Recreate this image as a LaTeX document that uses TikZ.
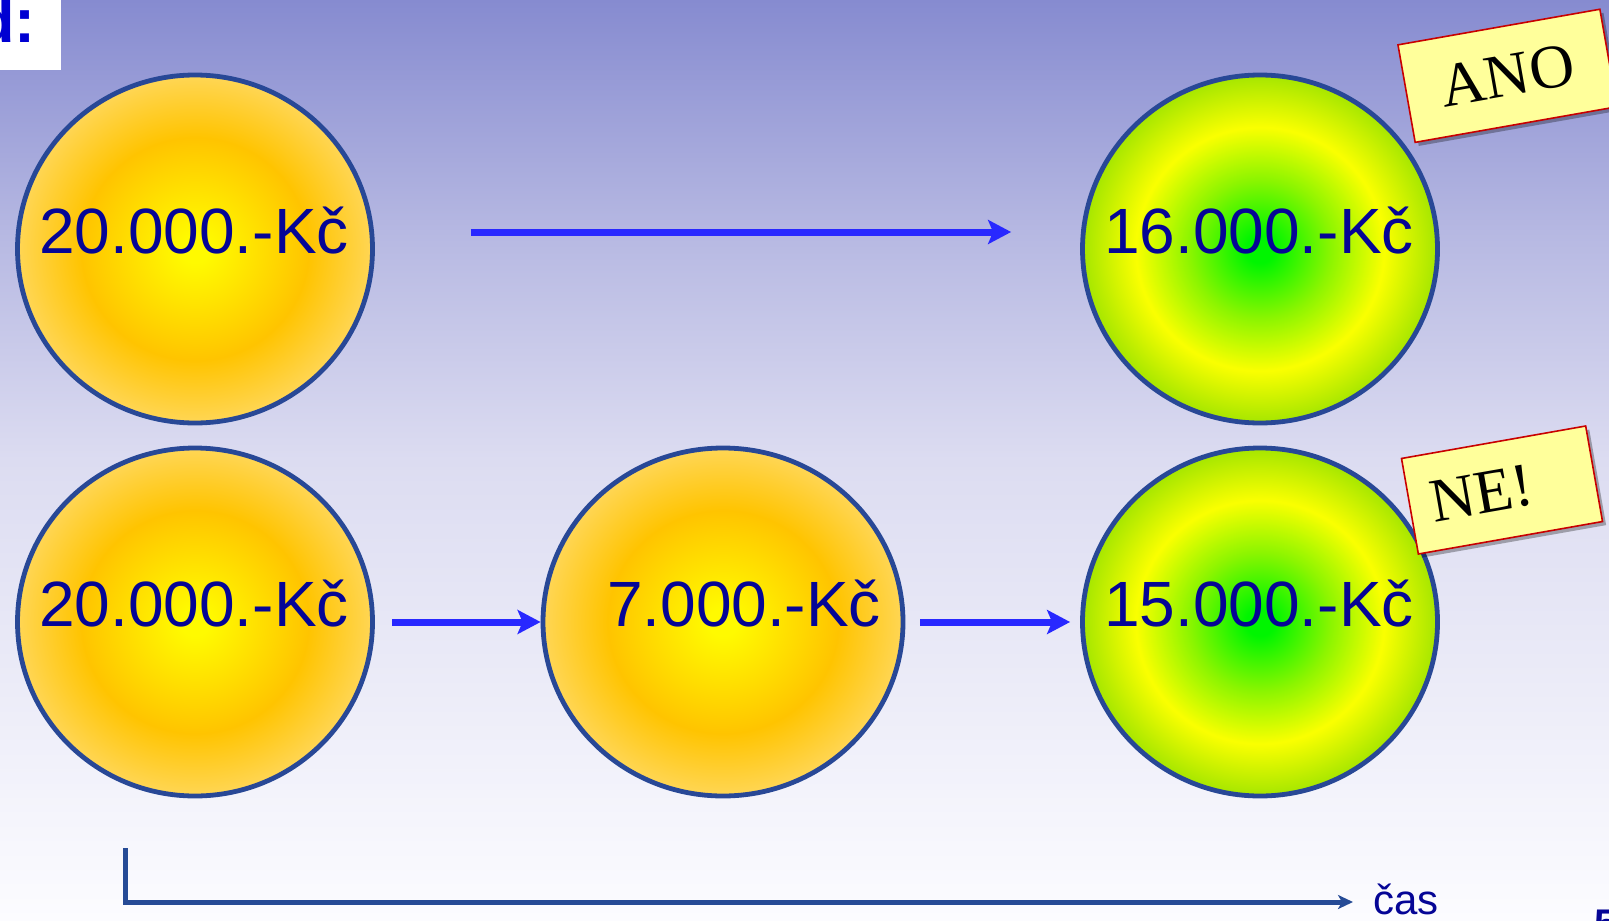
\documentclass[tikz,border=0pt]{standalone}
\usepackage{fontspec}
\setmainfont{Liberation Sans}
\newfontfamily\serifx{Liberation Serif}
\usetikzlibrary{arrows.meta,shadows,shapes.geometric}

\definecolor{bgA}{RGB}{134,139,208}
\definecolor{bgB}{RGB}{182,184,226}
\definecolor{bgC}{RGB}{220,220,241}
\definecolor{bgD}{RGB}{252,252,255}
\definecolor{oY}{RGB}{255,250,0}
\definecolor{oG}{RGB}{255,196,0}
\definecolor{oE}{RGB}{255,214,85}
\definecolor{gC}{RGB}{0,245,0}
\definecolor{gM}{RGB}{140,245,0}
\definecolor{gY}{RGB}{250,255,0}
\definecolor{gE}{RGB}{165,230,0}
\definecolor{rim}{RGB}{40,72,150}
\definecolor{txt}{RGB}{5,5,150}
\definecolor{arr}{RGB}{40,40,255}
\definecolor{tline}{RGB}{38,75,150}
\definecolor{notefill}{RGB}{255,255,155}
\definecolor{notedraw}{RGB}{200,0,0}
\definecolor{titleblue}{RGB}{0,0,210}

\pgfdeclareradialshading{coinorange}{\pgfpoint{0bp}{0bp}}{color(0bp)=(oY); color(2bp)=(oY); color(16bp)=(oG); color(25bp)=(oE); color(50bp)=(oE)}
\pgfdeclareradialshading{coingreen}{\pgfpoint{0bp}{0bp}}{color(0bp)=(gC); color(2bp)=(gC); color(10bp)=(gM); color(17.5bp)=(gY); color(25bp)=(gE); color(50bp)=(gE)}

\tikzset{
  coin/.style={ellipse, draw=rim, line width=2.4pt, inner sep=0pt,
    minimum width=177.5pt, minimum height=174pt},
  orange/.style={coin, shading=coinorange},
  green/.style={coin, shading=coingreen},
  money/.style={text=txt, font=\fontsize{32pt}{38pt}\selectfont, inner sep=0pt},
  flow/.style={draw=arr, line width=3.5pt, -{Stealth[length=11.5pt, width=12pt, inset=2.5pt]}},
  note/.style={draw=notedraw, line width=0.8pt, fill=notefill, rotate=10,
    inner sep=0pt, font=\serifx\fontsize{31pt}{36pt}\selectfont,
    drop shadow={shadow xshift=1.8pt, shadow yshift=-1.8pt, opacity=0.3, fill=black}},
}

\begin{document}
\begin{tikzpicture}[x=0.5pt, y=-0.5pt]
\useasboundingbox (0,0) rectangle (1609,920);
\clip (0,0) rectangle (1609,920);
% background
\shade[top color=bgA, bottom color=bgB] (0,0) rectangle (1609,232);
\shade[top color=bgB, bottom color=bgC] (0,231) rectangle (1609,460);
\shade[top color=bgC, bottom color=bgD] (0,459) rectangle (1609,920);

% title fragment
\fill[white] (0,0) rectangle (61,70);
\node[anchor=base east, inner sep=0pt, text=titleblue, font=\bfseries\fontsize{31.5pt}{36pt}\selectfont] (title) at (36,43) {d:};

% coins
\node[orange] (c1) at (195,249) {};
\node[green]  (c2) at (1260,249) {};
\node[orange] (c3) at (195,622) {};
\node[orange, minimum width=180pt] (c4) at (723,622) {};
\node[green]  (c5) at (1260,622) {};

\node[money] (t1) at (194,231) {20.000.-Kč};
\node[money] (t2) at (1259,231) {16.000.-Kč};
\node[money] (t3) at (194,604) {20.000.-Kč};
\node[money] (t4) at (744,604) {7.000.-Kč};
\node[money] (t5) at (1259,604) {15.000.-Kč};

% connectors
\draw[flow] ([shift={(96,-17)}]c1.east) -- ([shift={(-69,-17)}]c2.west);
\draw[flow] ([shift={(17.5,0)}]c3.east) -- (c4.west);
\draw[flow] ([shift={(15,0)}]c4.east) -- ([shift={(-10,0)}]c5.west);

% notes
\node[note, minimum width=102.5pt, minimum height=49.5pt] (ano) at (1507.5,75.8) {ANO};
\node[note, minimum width=93.5pt, minimum height=48.5pt, text width=72pt, align=left] (ne) at (1502,490) {NE!};

% time axis
\coordinate (tstart) at (125,848);
\node[anchor=base west, inner sep=0pt, text=txt, font=\fontsize{21pt}{25pt}\selectfont] (cas) at (1373,914) {čas};
\coordinate (tend) at (1353,902);
\draw[draw=tline, line width=2.5pt, -{Stealth[length=7.5pt, width=7pt, inset=2pt]}] (tstart) |- (tend);

% page number fragment
\node[anchor=north west, inner sep=0pt, text=txt, font=\bfseries\fontsize{20pt}{24pt}\selectfont] (pnum) at (1594,910) {5};
\end{tikzpicture}
\end{document}
